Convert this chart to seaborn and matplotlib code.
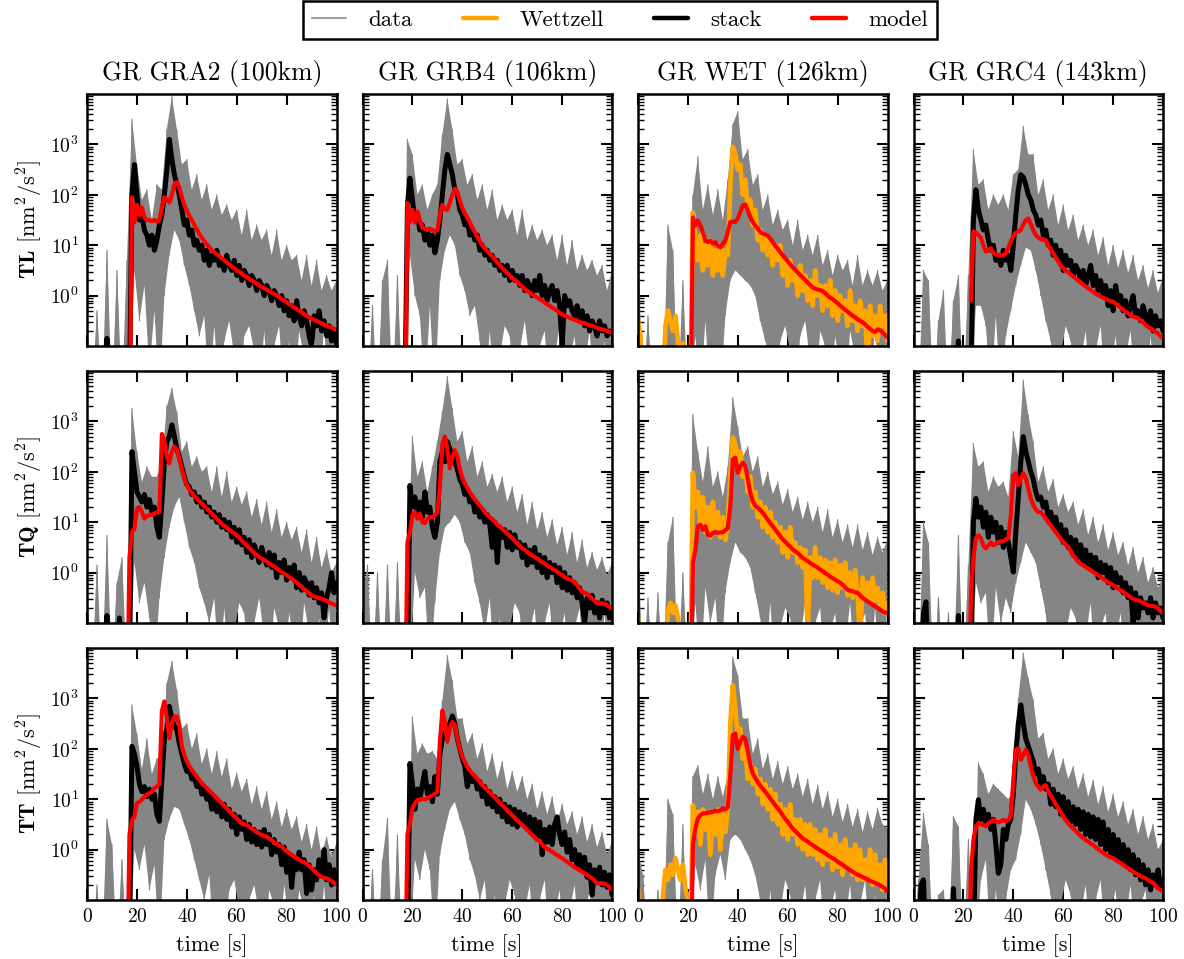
import numpy as np
import pandas as pd
import matplotlib
matplotlib.use("Agg")
import matplotlib.pyplot as plt
import seaborn as sns
from matplotlib.lines import Line2D
from matplotlib.ticker import NullLocator, LogLocator

# ---------------------------------------------------------------------------
# Values: log10 of power [nm^2/s^2].
# model / stack / Wettzell: one value per second, t = 0 ... 100 s.
# data: upper edge of the grey trace bundle at t = 0, 2, ..., 100 s (_hi) and
#       lower edge at t = 1, 3, ..., 99 s (_lo).
# -2 / -3 mean "below the plotted range"; None = not drawn.
# ---------------------------------------------------------------------------

# ---------------- TL row ----------------
tl_gra2_model = [
    -3, -3, -3, -3, -3, -3, -3, -3, -3, -3,
    -3, -3, -3, -3, -3, -3, -3, -3, 1.95, 1.45,
    1.8, 1.6, 1.75, 1.55, 1.5, 1.5, 1.48, 1.5, 1.47, 1.5,
    1.75, 1.95, 1.9, 1.85, 2.0, 2.2, 2.25, 2.15, 1.95, 1.8,
    1.68, 1.58, 1.5, 1.4, 1.32, 1.22, 1.15, 1.08, 1.02, 0.96,
    0.9, 0.86, 0.82, 0.78, 0.74, 0.7, 0.66, 0.62, 0.58, 0.54,
    0.5, 0.47, 0.44, 0.4, 0.37, 0.33, 0.3, 0.27, 0.24, 0.2,
    0.17, 0.15, 0.12, 0.09, 0.06, 0.03, 0.01, -0.03, -0.07, -0.1,
    -0.13, -0.17, -0.2, -0.23, -0.27, -0.3, -0.33, -0.37, -0.4, -0.43,
    -0.46, -0.48, -0.5, -0.53, -0.55, -0.58, -0.6, -0.62, -0.63, -0.66,
    -0.68]
tl_gra2_stack = [
    -2, -2, -2, -2, -2, -2, -2, -2, -0.85, -2,
    -2, -2, -2, -2, -2, -2, -2, -2, 2.0, 2.6,
    2.0, 1.5, 1.6, 1.3, 1.2, 1.0, 1.2, 0.9, 1.1, 1.4,
    1.6, 2.0, 2.5, 3.1, 2.7, 2.4, 2.2, 2.0, 1.7, 1.4,
    1.5, 1.2, 1.3, 1.0, 1.1, 0.9, 1.0, 0.7, 0.9, 0.6,
    0.8, 0.7, 0.9, 0.6, 0.7, 0.5, 0.8, 0.6, 0.5, 0.7,
    0.4, 0.6, 0.3, 0.5, 0.4, 0.2, 0.4, 0.3, 0.1, 0.3,
    0.2, 0.0, 0.2, 0.1, -0.1, 0.1, 0.0, -0.2, 0.0, -0.3,
    -0.1, -0.4, -0.2, -0.5, -0.1, -0.4, -0.6, -0.3, -0.5, -0.8,
    -1.0, -0.4, -0.6, -0.3, -0.7, -0.5, -0.8, -0.6, -0.9, -0.7,
    -0.95]
tl_gra2_data_hi = [
    -0.5, -2, -0.3, -2, 0.9, -2, 0.5, -2, 0.7, 3.5,
    2.6, 1.9, 2.1, 1.5, 2.2, 2.1, 3.3, 3.95, 3.3, 2.6,
    2.7, 2.1, 2.4, 1.9, 2.2, 1.7, 2.0, 1.6, 1.8, 1.5,
    1.7, 1.2, 1.7, 1.1, 1.4, 1.1, 1.3, 0.8, 1.3, 0.7,
    1.0, 0.7, 0.8, 0.3, 0.8, 0.2, 0.7, 0.1, 0.4, 0.1,
    0.3]
tl_gra2_data_lo = [
    -2, -2, -2, -2, -2, -2, -2, -2, -2, 0.5,
    -0.5, 0.2, -1.5, -0.3, -2, 0.0, 0.8, 1.3, 1.1, 0.6,
    0.2, -0.3, -0.8, -0.4, -2, -0.6, -2, -0.9, -0.5, -1.2,
    -2, -0.8, -0.6, -1.1, -2, -0.7, -2, -1.0, -0.6, -2,
    -0.9, -2, -0.7, -1.2, -2, -0.8, -2, -0.6, -2, -2]

tl_grb4_model = [
    -3, -3, -3, -3, -3, -3, -3, -3, -3, -3,
    -3, -3, -3, -3, -3, -3, -3, -3, 1.84, 1.45,
    1.7, 1.45, 1.67, 1.5, 1.35, 1.32, 1.3, 1.33, 1.3, 1.28,
    1.3, 1.6, 1.8, 1.72, 1.7, 1.85, 2.0, 2.12, 2.05, 1.88,
    1.74, 1.63, 1.55, 1.45, 1.35, 1.26, 1.17, 1.08, 1.0, 0.94,
    0.88, 0.83, 0.78, 0.72, 0.66, 0.6, 0.55, 0.5, 0.45, 0.4,
    0.35, 0.31, 0.27, 0.22, 0.18, 0.13, 0.09, 0.06, 0.02, -0.01,
    -0.04, -0.07, -0.1, -0.14, -0.17, -0.2, -0.24, -0.27, -0.3, -0.34,
    -0.37, -0.4, -0.42, -0.44, -0.46, -0.48, -0.5, -0.52, -0.54, -0.55,
    -0.57, -0.59, -0.6, -0.62, -0.64, -0.66, -0.67, -0.68, -0.7, -0.72,
    -0.74]
tl_grb4_stack = [
    -2, -2, -2, -2, -2, -2, -2, -2, -2, -2,
    -2, -2, -2, -2, -2, -2, -2, -2, 1.8, 2.33,
    1.9, 1.5, 1.6, 1.3, 1.4, 1.1, 1.3, 1.0, 1.2, 0.85,
    1.1, 1.5, 2.0, 2.5, 2.8, 2.6, 2.4, 2.1, 2.0, 1.7,
    1.6, 1.4, 1.5, 1.2, 1.3, 1.1, 1.2, 0.9, 1.0, 0.8,
    0.9, 0.7, 0.8, 0.6, 0.7, 0.5, 0.6, 0.4, 0.6, 0.3,
    0.5, 0.3, 0.4, 0.2, 0.4, 0.1, 0.3, 0.2, 0.0, 0.3,
    0.1, 0.4, 0.0, 0.2, -0.1, 0.1, 0.2, -0.1, 0.1, -0.2,
    -1.0, 0.0, -0.2, -0.1, -0.3, -0.4, -0.2, -0.5, -0.3, -0.6,
    -0.4, -0.7, -0.5, -0.6, -0.8, -0.5, -0.7, -0.6, -0.8, -0.7,
    -0.75]
tl_grb4_data_hi = [
    -0.6, -2, -0.2, -2, 0.3, 0.7, -2, 0.4, -2, 3.1,
    2.8, 2.0, 2.2, 1.7, 2.0, 2.2, 3.2, 3.9, 3.3, 2.6,
    2.7, 2.2, 2.4, 1.9, 2.2, 1.7, 2.1, 1.5, 1.8, 1.5,
    1.7, 1.2, 1.7, 1.1, 1.4, 1.1, 1.3, 1.0, 1.2, 0.7,
    1.2, 0.6, 1.1, 0.5, 0.8, 0.5, 0.7, 0.4, 0.6, 0.1,
    0.5]
tl_grb4_data_lo = [
    -2, -2, -2, -2, -2, -2, -2, -2, -2, 0.8,
    0.0, -0.4, -2, -0.2, -2, 0.3, 0.9, 1.2, 1.0, 0.4,
    0.1, -0.4, -0.2, -0.9, -2, -0.7, -2, -1.2, -0.6, -0.8,
    -2, -1.1, -0.5, -1.3, -2, -1.0, -0.7, -2, -1.2, -0.6,
    -2, -1.3, -0.8, -2, -1.4, -0.7, -2, -2, -0.9, -2]

tl_wet_model = [
    -3, -3, -3, -3, -3, -3, -3, -3, -3, -3,
    -3, -3, -3, -3, -3, -3, -3, -3, -3, -3,
    -3, -3, 1.55, 1.39, 1.49, 1.39, 1.26, 1.09, 1.06, 1.09,
    1.03, 1.06, 0.99, 0.96, 1.03, 1.09, 1.26, 1.46, 1.47, 1.46,
    1.53, 1.66, 1.79, 1.81, 1.69, 1.56, 1.46, 1.39, 1.33, 1.26,
    1.23, 1.21, 1.19, 1.13, 1.06, 0.99, 0.93, 0.86, 0.8, 0.74,
    0.68, 0.62, 0.56, 0.51, 0.46, 0.41, 0.36, 0.31, 0.26, 0.21,
    0.16, 0.14, 0.12, 0.11, 0.09, 0.05, 0.0, -0.04, -0.07, -0.11,
    -0.15, -0.2, -0.24, -0.28, -0.32, -0.36, -0.4, -0.43, -0.47, -0.5,
    -0.53, -0.57, -0.62, -0.66, -0.7, -0.72, -0.67, -0.69, -0.73, -0.78,
    -0.83]
tl_wet_wettzell = [
    -0.5, -0.8, -2, -2, -2, -2, -2, -2, -2, -2,
    -2, -0.6, -0.3, -0.5, -0.7, -0.4, -0.9, -2, -0.95, -2,
    -2, -2, 1.65, 1.1, 0.7, 1.2, 0.5, 1.0, 0.6, 1.1,
    0.4, 0.9, 0.5, 1.0, 0.4, 0.9, 0.8, 2.2, 2.95, 2.8,
    2.5, 2.6, 2.0, 2.3, 1.7, 1.9, 1.4, 1.7, 1.1, 1.3,
    0.9, 1.2, 0.8, 1.1, 0.6, 1.0, 0.7, 1.0, 0.4, 0.7,
    0.2, 0.7, 0.3, 0.5, 0.0, 0.6, 0.1, 0.4, -0.1, 0.3,
    -0.2, 0.5, 0.0, 0.2, -0.3, 0.2, -0.2, 0.3, -0.4, 0.1,
    -0.5, 0.0, -0.3, -0.1, -0.6, 0.1, -0.5, -0.2, -0.7, -0.1,
    -0.6, -0.3, -1.5, -0.2, -0.8, -0.4, -0.9, -0.2, -0.6, -0.4,
    -0.9]
tl_wet_data_hi = [
    1.2, -2, -0.4, -2, -2, -2, 1.4, 0.9, -2, 0.3,
    -2, 2.0, 2.76, 1.7, 2.2, 1.6, 2.1, 1.5, 2.3, 3.4,
    3.65, 2.7, 2.9, 2.2, 2.4, 1.7, 2.0, 1.4, 1.7, 1.3,
    1.5, 1.0, 1.5, 0.9, 1.2, 0.8, 1.2, 0.6, 0.9, 0.4,
    0.8, 0.5, 0.7, 0.2, 0.8, 0.2, 0.5, 0.2, 0.5, 0.1,
    0.3]
tl_wet_data_lo = [
    -2, -2, -2, -2, -2, -2, -2, -2, -2, -2,
    -2, -0.8, -2, -0.5, -2, -1.0, -2, -0.4, 0.3, 0.5,
    0.4, 0.3, 0.2, 0.0, -0.5, -0.9, -1.2, -2, -0.9, -0.6,
    -1.1, -2, -0.8, -0.5, -1.3, -2, -0.7, -1.0, -2, -0.8,
    -1.4, -2, -0.7, -1.2, -2, -0.9, -2, -0.6, -2, -2]

tl_grc4_model = [
    None, None, None, None, None, None, None, None, None, None,
    None, None, None, None, None, None, None, None, None, None,
    None, None, None, -0.1, 1.27, 1.25, 1.2, 1.15, 1.0, 0.87,
    0.9, 0.94, 0.85, 0.82, 0.8, 0.8, 0.8, 0.84, 0.95, 1.08,
    1.18, 1.25, 1.27, 1.3, 1.42, 1.5, 1.53, 1.42, 1.3, 1.2,
    1.15, 1.12, 1.1, 1.1, 1.0, 0.92, 0.84, 0.76, 0.68, 0.6,
    0.54, 0.5, 0.46, 0.42, 0.38, 0.34, 0.3, 0.26, 0.22, 0.18,
    0.15, 0.11, 0.08, 0.04, 0.01, -0.02, -0.04, -0.07, -0.09, -0.11,
    -0.12, -0.16, -0.2, -0.24, -0.28, -0.32, -0.35, -0.39, -0.42, -0.43,
    -0.45, -0.49, -0.53, -0.58, -0.62, -0.65, -0.68, -0.72, -0.75, -0.8,
    -0.85]
tl_grc4_stack = [
    -2, -2, -2, -2, -2, -2, -2, -2, -2, -2,
    -2, -2, -2, -2, -2, -2, -2, -2, -0.9, -2,
    -2, -2, -2, -2, 1.5, 2.1, 1.7, 1.5, 1.3, 1.4,
    1.1, 0.9, 1.0, 0.7, 0.8, 0.6, 0.9, 0.7, 0.8, 0.5,
    1.0, 1.6, 2.1, 2.4, 2.35, 2.2, 2.0, 1.9, 1.7, 1.6,
    1.4, 1.5, 1.2, 1.3, 1.0, 1.1, 0.8, 1.0, 0.7, 0.9,
    0.5, 0.8, 0.6, 0.7, 0.4, 0.6, 0.5, 0.3, 0.5, 0.2,
    0.4, 0.6, 0.2, 0.4, 0.1, 0.3, 0.0, 0.2, -0.2, 0.1,
    -0.3, 0.2, -0.1, 0.0, -0.3, -0.1, -0.4, -0.2, 0.0, -0.4,
    -0.3, -0.5, -0.2, -0.4, -0.6, -0.3, -0.7, -0.4, -0.6, -0.5,
    -0.7]
tl_grc4_data_hi = [
    -0.3, -2, 0.5, 0.3, -2, -0.5, 0.1, -2, -0.1, 0.4,
    -2, 0.4, 2.9, 2.2, 2.3, 1.7, 2.0, 1.8, 2.0, 1.7,
    2.4, 2.5, 3.36, 2.8, 2.8, 2.0, 2.3, 1.7, 2.0, 1.4,
    1.8, 1.3, 1.6, 1.1, 1.4, 1.0, 1.3, 0.8, 1.15, 0.6,
    1.0, 0.55, 0.9, 0.45, 0.8, 0.3, 0.6, 0.15, 0.5, 0.05,
    0.4]
tl_grc4_data_lo = [
    -2, -2, -2, -2, -2, -2, -2, -2, -2, -2,
    -2, -2, -0.2, -0.2, -0.6, -2, -0.4, -2, -0.8, -0.3,
    0.2, 0.6, 0.95, 0.9, 0.5, 0.0, -0.5, -0.9, -2, -1.2,
    -0.6, -0.9, -2, -1.3, -0.7, -2, -1.1, -0.6, -2, -1.5,
    -0.8, -2, -1.2, -0.7, -2, -1.0, -2, -0.8, -2, -2]

# ---------------- TQ row ----------------
tq_gra2_model = [
    -3, -3, -3, -3, -3, -3, -3, -3, -3, -3,
    -3, -3, -3, -3, -3, -3, -3, 0.3, 0.81, 0.87,
    1.27, 1.3, 1.2, 1.07, 1.12, 1.14, 1.15, 1.17, 1.2, 1.2,
    2.75, 2.6, 2.3, 2.17, 2.4, 2.5, 2.45, 2.25, 2.05, 1.88,
    1.73, 1.65, 1.58, 1.52, 1.47, 1.42, 1.37, 1.32, 1.27, 1.22,
    1.17, 1.12, 1.07, 1.02, 0.97, 0.93, 0.89, 0.85, 0.81, 0.78,
    0.74, 0.69, 0.64, 0.59, 0.54, 0.49, 0.44, 0.39, 0.34, 0.31,
    0.28, 0.25, 0.22, 0.18, 0.15, 0.12, 0.08, 0.05, 0.01, -0.02,
    -0.05, -0.09, -0.12, -0.16, -0.19, -0.24, -0.28, -0.33, -0.37, -0.41,
    -0.45, -0.47, -0.49, -0.5, -0.52, -0.54, -0.56, -0.59, -0.61, -0.63,
    -0.65]
tq_gra2_stack = [
    -2, -2, -2, -2, -2, -2, -2, -2, -0.85, -2,
    -2, -2, -2, -0.9, -2, -2, -2, -2, 2.4, 2.0,
    1.6, 1.5, 1.4, 1.55, 1.3, 1.45, 1.2, 1.3, 0.9, 0.7,
    1.4, 2.2, 2.6, 2.7, 2.93, 2.7, 2.45, 2.3, 2.1, 1.9,
    1.75, 1.7, 1.55, 1.6, 1.4, 1.5, 1.3, 1.4, 1.2, 1.3,
    1.1, 1.2, 1.0, 1.15, 0.9, 1.05, 0.85, 1.0, 0.7, 0.9,
    0.6, 0.85, 0.55, 0.7, 0.4, 0.65, 0.3, 0.55, 0.4, 0.2,
    0.5, 0.3, 0.15, 0.4, 0.1, 0.35, -0.1, 0.2, 0.0, 0.25,
    -0.15, 0.1, -0.1, 0.15, -0.3, 0.0, -0.35, -0.1, -0.2, -0.45,
    -0.2, -0.5, -0.3, -0.6, -0.4, -0.9, -0.5, -0.3, 0.0, -0.4,
    -0.2]
tq_gra2_data_hi = [
    -0.4, -2, 0.15, -2, 0.74, -2, -0.2, 0.3, -2, 3.26,
    2.4, 1.8, 2.1, 1.9, 1.9, 2.2, 3.3, 3.66, 3.19, 2.4,
    2.6, 2.1, 2.3, 2.0, 2.1, 1.6, 2.1, 1.5, 2.0, 1.4,
    1.7, 1.35, 1.6, 1.1, 1.45, 0.95, 1.4, 0.8, 1.25, 0.7,
    1.0, 0.65, 0.9, 0.4, 0.85, 0.2, 0.7, 0.1, 0.45, 0.0,
    0.2]
tq_gra2_data_lo = [
    -2, -2, -2, -2, -2, -2, -2, -2, -2, 0.2,
    -0.6, -0.2, -0.9, -2, -0.5, 0.3, 0.9, 1.3, 1.5, 1.0,
    0.5, 0.2, -0.3, -0.6, -1.0, -0.5, -2, -0.7, -2, -1.2,
    -0.6, -0.8, -2, -1.0, -0.5, -1.3, -2, -0.7, -1.1, -2,
    -0.8, -1.4, -2, -0.6, -1.2, -2, -0.9, -2, -0.7, -2]

tq_grb4_model = [
    -3, -3, -3, -3, -3, -3, -3, -3, -3, -3,
    -3, -3, -3, -3, -3, -3, -3, -3, 0.6, 0.8,
    1.14, 1.2, 1.07, 1.17, 1.0, 0.98, 1.07, 1.1, 1.1, 1.13,
    1.2, 1.7, 2.55, 2.7, 2.45, 2.07, 2.3, 2.43, 2.3, 2.05,
    1.88, 1.77, 1.68, 1.6, 1.52, 1.45, 1.39, 1.33, 1.27, 1.2,
    1.14, 1.1, 1.06, 1.01, 0.95, 0.91, 0.87, 0.82, 0.77, 0.73,
    0.68, 0.63, 0.58, 0.53, 0.48, 0.45, 0.41, 0.37, 0.34, 0.31,
    0.28, 0.24, 0.21, 0.18, 0.14, 0.11, 0.08, 0.05, 0.02, -0.02,
    -0.05, -0.09, -0.12, -0.14, -0.15, -0.2, -0.25, -0.32, -0.38, -0.4,
    -0.42, -0.47, -0.52, -0.56, -0.61, -0.61, -0.61, -0.62, -0.65, -0.68,
    -0.72]
tq_grb4_stack = [
    -2, -2, -2, -2, -2, -2, -2, -2, -2, -2,
    -2, -2, -2, -2, -2, -2, -2, -2, -2, 1.73,
    1.3, 1.5, 1.2, 1.4, 1.1, 1.6, 1.2, 1.3, 0.9, 0.7,
    1.0, 2.2, 2.4, 2.2, 2.6, 2.45, 2.35, 2.2, 2.05, 1.85,
    1.75, 1.55, 1.65, 1.4, 1.5, 1.2, 1.35, 1.1, 1.25, 1.0,
    1.15, 0.95, 0.5, 1.0, 0.2, 0.9, 0.7, 0.85, 0.5, 0.8,
    0.45, 0.75, 0.5, 0.6, 0.3, 0.55, 0.15, 0.45, 0.2, 0.5,
    0.1, 0.35, 0.0, 0.3, -0.1, 0.2, 0.0, 0.15, -0.2, 0.1,
    -0.3, 0.0, -0.35, -0.1, -0.4, -0.2, -0.5, -0.3, -0.6, -1.0,
    -0.5, -0.7, -0.45, -0.8, -0.6, -0.9, -0.55, -0.8, -0.6, -0.9,
    -0.7]
tq_grb4_data_hi = [
    -0.5, 0.15, -2, 0.0, -2, 0.15, -2, 0.2, -2, 0.1,
    2.7, 1.9, 2.2, 1.6, 2.1, 2.6, 3.2, 3.89, 3.26, 2.6,
    2.8, 2.2, 2.5, 1.9, 2.2, 1.7, 1.95, 1.6, 1.9, 1.4,
    1.7, 1.2, 1.55, 0.95, 1.4, 0.85, 1.2, 0.7, 1.05, 0.55,
    0.9, 0.35, 0.8, 0.2, 0.65, 0.1, 0.4, 0.05, 0.3, -0.05,
    0.2]
tq_grb4_data_lo = [
    -2, -2, -2, -2, -2, -2, -2, -2, -2, -2,
    0.0, -0.5, -0.3, -2, -0.6, 0.4, 0.9, 1.0, 1.15, 1.0,
    0.6, 0.4, -0.2, -0.6, -1.2, -0.5, -2, -0.9, -2, -1.1,
    -0.6, -0.8, -2, -1.2, -0.7, -2, -1.0, -0.6, -2, -1.3,
    -0.8, -2, -1.1, -0.7, -2, -1.0, -1.3, -2, -0.8, -2]

tq_wet_model = [
    -3, -3, -3, -3, -3, -3, -3, -3, -3, -3,
    -3, -3, -3, -3, -3, -3, -3, -3, -3, -3,
    -3, -3, 0.2, 0.45, 0.92, 0.95, 0.85, 0.92, 0.75, 0.73,
    0.79, 0.8, 0.79, 0.8, 0.8, 0.84, 0.89, 1.32, 2.25, 2.28,
    1.98, 2.11, 2.18, 2.11, 1.85, 1.58, 1.42, 1.32, 1.29, 1.24,
    1.19, 1.12, 1.05, 0.98, 0.92, 0.85, 0.79, 0.72, 0.66, 0.61,
    0.56, 0.51, 0.46, 0.42, 0.39, 0.34, 0.29, 0.26, 0.23, 0.19,
    0.16, 0.13, 0.1, 0.06, 0.03, -0.01, -0.04, -0.08, -0.11, -0.14,
    -0.17, -0.2, -0.24, -0.29, -0.34, -0.36, -0.37, -0.39, -0.4, -0.45,
    -0.5, -0.54, -0.57, -0.6, -0.64, -0.67, -0.7, -0.73, -0.77, -0.79,
    -0.8]
tq_wet_wettzell = [
    -0.9, -2, -2, -2, -2, -2, -2, -2, -2, -2,
    -2, -2, -0.75, -0.6, -0.8, -0.65, -0.9, -2, -2, -2,
    -2, -2, 1.98, 1.3, 1.6, 0.9, 1.5, 0.8, 1.3, 0.7,
    1.4, 0.9, 1.2, 0.7, 1.1, 0.65, 1.0, 1.9, 2.68, 2.55,
    2.2, 2.4, 1.9, 2.1, 1.6, 1.9, 1.3, 1.6, 1.1, 1.4,
    0.9, 1.3, 0.8, 1.2, 0.7, 1.0, 0.6, 0.9, 0.4, 0.8,
    0.3, 0.9, 0.4, 0.6, 0.2, 0.5, 0.1, 0.45, -1.2, 0.3,
    -0.1, 0.5, -0.1, 0.3, -0.2, 0.25, -0.3, 0.2, -0.35, 0.25,
    -0.4, 0.15, -0.3, 0.2, -0.45, 0.0, -0.5, 0.05, -0.4, -1.5,
    -0.1, -0.5, -0.2, -0.6, -0.1, -0.55, -0.3, -0.7, -0.4, -0.8,
    -0.6]
tq_wet_data_hi = [
    0.66, -2, -0.5, -2, -0.4, -2, 0.6, 1.1, -2, 0.0,
    -2, 3.14, 2.4, 1.8, 2.5, 1.7, 2.0, 1.5, 2.1, 3.47,
    2.9, 2.3, 2.5, 2.0, 2.3, 1.7, 2.0, 1.55, 1.8, 1.35,
    1.65, 1.2, 1.5, 1.05, 1.4, 1.0, 1.3, 0.8, 1.25, 0.7,
    1.05, 0.6, 0.95, 0.5, 0.95, 0.45, 0.8, 0.35, 0.7, 0.4,
    0.66]
tq_wet_data_lo = [
    -2, -2, -2, -2, -2, -2, -2, -2, -2, -2,
    -2, -0.6, -2, -0.3, -1.0, -0.5, -2, -0.4, 0.2, 0.6,
    0.4, 0.3, 0.1, -0.4, -0.9, -2, -0.6, -2, -1.1, -0.7,
    -0.9, -2, -1.3, -0.6, -2, -1.0, -0.7, -2, -1.2, -0.8,
    -2, -1.5, -0.6, -2, -1.1, -0.8, -2, -0.7, -2, -2]

tq_grc4_model = [
    -3, -3, -3, -3, -3, -3, -3, -3, -3, -3,
    -3, -3, -3, -3, -3, -3, -3, -3, -3, -3,
    -3, -3, -3, -0.5, 0.3, 0.68, 0.74, 0.68, 0.54, 0.48,
    0.54, 0.6, 0.54, 0.57, 0.61, 0.62, 0.62, 0.66, 0.68, 1.14,
    1.93, 1.97, 1.74, 1.87, 1.97, 1.87, 1.67, 1.47, 1.34, 1.25,
    1.2, 1.2, 1.14, 1.07, 1.0, 0.94, 0.87, 0.8, 0.74, 0.67,
    0.61, 0.56, 0.51, 0.43, 0.34, 0.28, 0.21, 0.17, 0.15, 0.11,
    0.08, 0.05, 0.01, -0.02, -0.05, -0.09, -0.12, -0.16, -0.19, -0.22,
    -0.25, -0.28, -0.32, -0.35, -0.38, -0.42, -0.45, -0.49, -0.52, -0.54,
    -0.55, -0.57, -0.6, -0.62, -0.65, -0.66, -0.66, -0.68, -0.71, -0.76,
    -0.81]
tq_grc4_stack = [
    -2, -2, -2, -2, -0.8, -0.58, -2, -2, -2, -2,
    -2, -2, -2, -2, -2, -2, -2, -2, -0.85, -2,
    -2, -2, -2, -2, 1.0, 1.47, 1.1, 1.3, 0.9, 1.2,
    0.7, 1.1, 0.8, 1.0, 0.6, 0.9, 0.5, 0.8, 0.6, 0.3,
    0.01, 0.8, 1.5, 2.2, 2.7, 2.4, 2.2, 2.0, 1.85, 1.6,
    1.45, 1.5, 1.3, 1.4, 1.1, 1.2, 0.9, 1.1, 0.8, 0.95,
    0.6, 0.85, 0.5, 0.7, 0.35, 0.65, 0.3, 0.55, 0.2, 0.45,
    0.1, 0.35, 0.05, 0.3, -0.1, 0.2, 0.0, 0.15, -0.2, 0.1,
    -0.3, 0.0, -0.2, -0.1, -0.4, -0.2, -0.5, -0.3, -1.0, -0.4,
    -0.9, -0.5, -0.7, -0.6, -0.8, -0.5, -0.9, -0.6, -0.8, -0.7,
    -0.9]
tq_grc4_data_hi = [
    -0.52, -2, 1.0, 0.6, -2, -0.5, -2, -0.8, -2, 0.74,
    -2, 0.15, 2.56, 2.1, 2.2, 1.6, 1.9, 1.7, 1.8, 1.5,
    2.8, 2.3, 3.82, 3.13, 2.6, 1.8, 2.1, 1.6, 1.85, 1.3,
    1.55, 1.2, 1.4, 0.95, 1.25, 0.75, 1.1, 0.6, 0.95, 0.45,
    0.8, 0.35, 0.6, 0.15, 0.5, 0.0, 0.3, -0.2, 0.1, -0.3,
    -0.1]
tq_grc4_data_lo = [
    -2, -2, -2, -2, -2, -2, -2, -2, -2, -2,
    -2, -2, -0.2, -0.6, -0.4, -2, -0.3, -1.0, -0.5, -0.8,
    -0.2, 0.2, 0.6, 0.4, 0.2, -0.3, -0.8, -2, -1.0, -2,
    -1.2, -0.7, -0.9, -2, -1.3, -0.6, -2, -1.1, -0.8, -2,
    -1.4, -0.8, -2, -1.2, -0.9, -2, -2, -1.0, -2, -2]

# ---------------- TT row ----------------
tt_gra2_model = [
    -3, -3, -3, -3, -3, -3, -3, -3, -3, -3,
    -3, -3, -3, -3, -3, -3, -3, 0.3, 0.59, 0.65,
    0.92, 0.95, 0.99, 1.05, 1.09, 1.12, 1.15, 1.22, 1.25, 1.3,
    2.75, 2.94, 2.6, 2.21, 2.5, 2.64, 2.64, 2.45, 2.05, 1.88,
    1.75, 1.66, 1.58, 1.51, 1.45, 1.38, 1.32, 1.27, 1.22, 1.17,
    1.12, 1.07, 1.02, 0.97, 0.92, 0.87, 0.82, 0.77, 0.72, 0.67,
    0.62, 0.57, 0.52, 0.5, 0.49, 0.45, 0.42, 0.38, 0.35, 0.32,
    0.29, 0.27, 0.26, 0.22, 0.19, 0.13, 0.11, 0.08, 0.06, 0.01,
    -0.04, -0.07, -0.1, -0.14, -0.17, -0.2, -0.23, -0.25, -0.28, -0.32,
    -0.37, -0.42, -0.47, -0.51, -0.54, -0.56, -0.57, -0.59, -0.62, -0.66,
    -0.7]
tt_gra2_stack = [
    -2, -2, -2, -2, -2, -2, -2, -2, -2, -2,
    -2, -2, -2, -2, -2, -2, -2, -2, 2.05, 1.9,
    1.65, 1.3, 1.15, 1.25, 1.05, 1.2, 1.0, 1.1, 0.7, 0.56,
    1.4, 2.2, 2.4, 2.84, 2.6, 2.45, 2.38, 2.1, 1.9, 1.7,
    1.55, 1.6, 1.4, 1.45, 1.25, 1.35, 1.1, 1.25, 1.0, 1.1,
    0.8, 1.05, 0.75, 0.95, 0.65, 0.9, 0.6, 0.8, 0.45, 0.7,
    0.3, 0.65, 0.4, 0.55, 0.2, 0.5, 0.15, 0.4, 0.1, 0.35,
    0.05, 0.4, 0.1, 0.3, -0.1, 0.2, -0.05, 0.1, -0.3, 0.05,
    -0.45, -0.1, -0.75, -0.2, -0.4, -0.05, -0.4, -0.2, -0.87, -0.3,
    -0.8, -0.4, -0.6, -0.2, -0.5, 0.0, -0.6, -0.3, -0.7, -0.4,
    -0.6]
tt_gra2_data_hi = [
    -0.6, -2, -0.7, -2, 0.6, 0.1, -2, -0.2, -2, 2.87,
    2.3, 1.6, 2.2, 1.5, 1.8, 1.9, 3.3, 3.74, 3.17, 2.4,
    2.5, 2.0, 2.3, 1.7, 2.0, 1.5, 1.95, 1.45, 1.8, 1.2,
    1.52, 1.15, 1.4, 0.9, 1.25, 0.8, 1.15, 0.6, 0.95, 0.45,
    0.8, 0.4, 0.65, 0.15, 0.5, 0.0, 0.45, -0.1, 0.25, -0.15,
    0.13]
tt_gra2_data_lo = [
    -2, -2, -2, -2, -2, -2, -2, -2, -2, 0.0,
    -0.4, 0.1, -0.8, -0.3, -2, 0.2, 0.6, 0.85, 0.8, 0.5,
    0.2, -0.2, -0.6, -1.0, -0.5, -2, -1.1, -2, -0.8, -0.6,
    -1.2, -2, -1.0, -0.7, -1.3, -2, -0.8, -1.1, -2, -0.7,
    -1.4, -2, -0.8, -1.2, -2, -0.9, -2, -0.7, -2, -2]

tt_grb4_model = [
    -3, -3, -3, -3, -3, -3, -3, -3, -3, -3,
    -3, -3, -3, -3, -3, -3, -3, -3, 0.3, 0.52,
    0.82, 0.92, 0.98, 0.99, 1.01, 0.99, 1.02, 1.05, 1.08, 1.11,
    1.14, 2.14, 2.76, 2.53, 2.14, 2.4, 2.53, 2.47, 2.2, 2.0,
    1.84, 1.74, 1.64, 1.57, 1.51, 1.46, 1.41, 1.34, 1.28, 1.23,
    1.18, 1.13, 1.08, 1.03, 0.98, 0.93, 0.88, 0.83, 0.78, 0.73,
    0.68, 0.63, 0.58, 0.53, 0.49, 0.44, 0.39, 0.34, 0.29, 0.24,
    0.19, 0.18, 0.09, 0.05, 0.02, -0.01, -0.04, -0.08, -0.11, -0.14,
    -0.17, -0.21, -0.24, -0.28, -0.31, -0.35, -0.38, -0.41, -0.44, -0.47,
    -0.5, -0.54, -0.57, -0.62, -0.67, -0.67, -0.67, -0.68, -0.7, -0.75,
    -0.8]
tt_grb4_stack = [
    -2, -2, -2, -2, -2, -2, -2, -2, -2, -2,
    -2, -2, -2, -2, -2, -2, -2, -2, -2, 1.71,
    1.3, 0.8, 1.2, 1.0, 1.3, 1.55, 1.1, 1.25, 0.95, 1.45,
    1.1, 1.9, 2.2, 2.3, 2.4, 2.5, 2.65, 2.5, 2.2, 2.0,
    1.8, 1.65, 1.25, 1.55, 1.35, 1.45, 1.2, 1.35, 1.05, 1.25,
    0.9, 1.15, 0.85, 1.05, 0.75, 1.0, 0.65, 0.9, 0.55, 0.85,
    0.5, 0.8, 0.45, 0.75, 0.5, 0.7, 0.4, 0.65, 0.35, 0.6,
    0.2, 0.55, -0.1, 0.4, 0.15, 0.45, 0.1, 0.5, 0.65, 0.3,
    0.1, 0.35, -0.05, 0.2, -0.2, 0.0, -0.35, -0.1, -0.4, -0.15,
    -0.55, -0.3, -0.9, -0.4, -0.6, -0.35, -0.7, -0.45, -0.75, -0.5,
    -0.9]
tt_grb4_data_hi = [
    0.0, -2, -0.4, -2, -0.2, 0.62, -2, 0.29, -2, -2,
    2.63, 1.9, 2.1, 1.9, 1.95, 1.8, 2.96, 3.85, 3.36, 2.6,
    2.6, 2.1, 2.3, 1.8, 2.1, 1.55, 1.9, 1.4, 1.75, 1.2,
    1.55, 1.15, 1.45, 1.0, 1.3, 0.8, 1.15, 0.7, 1.05, 0.55,
    0.9, 0.5, 0.75, 0.3, 0.65, 0.15, 0.5, 0.05, 0.35, -0.1,
    0.16]
tt_grb4_data_lo = [
    -2, -2, -2, -2, -2, -2, -2, -2, -2, -2,
    -0.2, -0.6, 0.0, -0.4, -2, -0.1, 0.4, 0.8, 0.95, 0.6,
    0.3, -0.2, -0.5, -1.0, -0.6, -2, -0.9, -2, -1.1, -0.6,
    -0.9, -2, -1.2, -0.7, -2, -1.0, -0.6, -2, -1.3, -0.8,
    -2, -1.2, -0.7, -2, -1.4, -0.8, -2, -1.0, -2, -2]

tt_wet_model = [
    -3, -3, -3, -3, -3, -3, -3, -3, -3, -3,
    -3, -3, -3, -3, -3, -3, -3, -3, -3, -3,
    -3, -3, 0.1, 0.42, 0.62, 0.68, 0.72, 0.72, 0.73, 0.74,
    0.75, 0.77, 0.76, 0.78, 0.82, 0.8, 0.84, 1.48, 2.27, 2.3,
    2.0, 2.14, 2.24, 2.2, 1.94, 1.68, 1.51, 1.42, 1.34, 1.27,
    1.21, 1.15, 1.08, 1.01, 0.95, 0.88, 0.82, 0.75, 0.68, 0.61,
    0.55, 0.48, 0.42, 0.37, 0.32, 0.27, 0.22, 0.19, 0.16, 0.12,
    0.09, 0.05, 0.02, -0.01, -0.04, -0.07, -0.11, -0.14, -0.17, -0.2,
    -0.24, -0.27, -0.3, -0.34, -0.37, -0.41, -0.44, -0.47, -0.5, -0.52,
    -0.54, -0.57, -0.59, -0.62, -0.64, -0.66, -0.68, -0.71, -0.74, -0.78,
    -0.83]
tt_wet_wettzell = [
    -0.77, -2, -2, -2, -2, -2, -2, -2, -2, -2,
    -0.9, -0.4, -0.6, -0.3, -0.5, -0.17, -0.4, -0.6, -0.3, -0.8,
    -0.95, -2, 0.88, 0.3, 0.75, 0.1, 0.8, 0.4, 0.7, -0.1,
    0.75, 0.3, 0.8, 0.0, 0.7, 0.35, 0.8, 2.5, 3.26, 2.8,
    2.2, 2.4, 1.8, 2.0, 1.4, 1.7, 1.3, 1.6, 1.1, 1.4,
    0.9, 1.3, 0.8, 1.2, 0.6, 1.1, 0.5, 0.9, 0.3, 0.8,
    0.2, 0.9, 0.3, 0.6, 0.1, 0.6, 0.0, 0.5, -0.1, 0.5,
    -0.1, 0.4, -0.2, 0.3, -0.3, 0.4, -0.2, 0.2, -0.4, 0.3,
    -0.35, 0.1, -0.5, 0.2, -0.3, 0.0, -0.5, 0.1, -0.6, 0.0,
    -0.6, -0.2, -0.5, 0.0, -0.7, -0.1, -0.6, -0.3, -0.8, -0.2,
    -0.7]
tt_wet_data_hi = [
    0.0, -0.5, -2, -2, -0.8, -2, 1.0, 0.7, -2, 0.5,
    -2, 1.45, 1.67, 1.1, 1.5, 1.0, 1.45, 1.05, 1.5, 3.82,
    3.46, 2.6, 2.6, 1.9, 2.2, 1.6, 1.9, 1.4, 1.75, 1.3,
    1.65, 1.2, 1.5, 1.05, 1.4, 0.9, 1.28, 0.8, 1.15, 0.65,
    1.0, 0.55, 0.9, 0.45, 0.8, 0.35, 0.75, 0.4, 0.82, 0.5,
    0.42]
tt_wet_data_lo = [
    -2, -2, -2, -2, -2, -2, -2, -2, -2, -2,
    -2, -0.3, -0.8, -0.2, -2, -0.5, -0.1, -0.6, 0.2, 0.3,
    0.2, 0.0, -0.2, -0.5, -1.0, -2, -0.8, -2, -1.2, -0.6,
    -0.9, -2, -1.3, -0.7, -2, -1.0, -0.6, -2, -1.2, -0.8,
    -2, -1.4, -0.7, -2, -1.1, -0.6, -2, -0.9, -2, -2]

tt_grc4_model = [
    -3, -3, -3, -3, -3, -3, -3, -3, -3, -3,
    -3, -3, -3, -3, -3, -3, -3, -3, -3, -3,
    -3, -3, -3, -0.47, 0.19, 0.46, 0.52, 0.5, 0.49, 0.46,
    0.52, 0.56, 0.59, 0.56, 0.54, 0.56, 0.59, 0.56, 0.59, 0.66,
    1.38, 1.98, 2.01, 1.78, 1.88, 1.98, 1.88, 1.65, 1.45, 1.32,
    1.25, 1.19, 1.25, 1.28, 1.15, 1.07, 0.99, 0.9, 0.82, 0.74,
    0.66, 0.59, 0.52, 0.47, 0.42, 0.37, 0.32, 0.27, 0.23, 0.19,
    0.16, 0.12, 0.09, 0.05, 0.01, -0.03, -0.06, -0.1, -0.13, -0.15,
    -0.17, -0.2, -0.24, -0.27, -0.3, -0.34, -0.37, -0.4, -0.44, -0.47,
    -0.5, -0.52, -0.55, -0.57, -0.6, -0.63, -0.66, -0.71, -0.77, -0.8,
    -0.83]
tt_grc4_stack = [
    -2, -2, -2, -0.7, -0.6, -2, -2, -2, -2, -2,
    -2, -2, -2, -2, -2, -2, -0.77, -2, -2, -2,
    -2, -2, -2, -2, -2, 0.6, 0.99, 0.6, 0.8, 0.5,
    0.7, 0.4, 0.6, 0.1, -0.47, -0.3, 0.4, 0.2, 0.5, 0.6,
    1.1, 1.9, 2.5, 2.87, 2.5, 2.2, 2.05, 1.9, 1.75, 1.5,
    1.6, 1.3, 1.45, 1.2, 1.3, 0.9, 1.2, 0.85, 1.1, 0.7,
    1.05, 0.6, 0.95, 0.55, 0.85, 0.5, 0.8, 0.4, 0.75, 0.3,
    0.7, 0.25, 0.65, 0.2, 0.6, 0.1, 0.55, 0.0, 0.4, -0.1,
    0.3, -0.15, 0.2, -0.25, 0.1, -0.3, 0.0, -0.4, -0.1, -0.5,
    -0.2, -0.6, -0.3, -0.7, -0.4, -0.8, -0.5, -0.7, -0.4, -0.75,
    -0.6]
tt_grc4_data_hi = [
    -2, -0.6, 0.72, 0.1, -2, -0.9, -0.8, -2, 0.66, 0.46,
    -2, 0.2, -2, 1.72, 1.5, 1.1, 1.3, 1.2, 1.1, 1.0,
    1.2, 3.0, 3.9, 3.4, 2.97, 2.2, 2.31, 1.8, 2.0, 1.5,
    1.8, 1.4, 1.65, 1.2, 1.5, 1.05, 1.38, 0.9, 1.25, 0.75,
    1.1, 0.65, 0.95, 0.5, 0.8, 0.3, 0.66, 0.2, 0.5, 0.0,
    0.19]
tt_grc4_data_lo = [
    -2, -2, -2, -2, -2, -2, -2, -2, -2, -2,
    -2, -2, -2, -0.6, -0.2, -2, -0.8, -2, -1.0, -0.4,
    -0.2, 0.3, 0.99, 0.8, 0.5, 0.1, -0.4, -0.9, -2, -1.1,
    -0.6, -0.9, -2, -1.3, -0.7, -2, -1.0, -0.6, -2, -1.2,
    -0.8, -2, -1.4, -0.7, -2, -1.1, -0.8, -2, -2, -2]

stations = ["GR GRA2 (100km)", "GR GRB4 (106km)", "GR WET (126km)", "GR GRC4 (143km)"]
components = ["TL", "TQ", "TT"]
x_ticks = [0, 20, 40, 60, 80, 100]
y_ticks = [1, 10, 100, 1000]

data_hi_grid = [[tl_gra2_data_hi, tl_grb4_data_hi, tl_wet_data_hi, tl_grc4_data_hi],
                [tq_gra2_data_hi, tq_grb4_data_hi, tq_wet_data_hi, tq_grc4_data_hi],
                [tt_gra2_data_hi, tt_grb4_data_hi, tt_wet_data_hi, tt_grc4_data_hi]]
data_lo_grid = [[tl_gra2_data_lo, tl_grb4_data_lo, tl_wet_data_lo, tl_grc4_data_lo],
                [tq_gra2_data_lo, tq_grb4_data_lo, tq_wet_data_lo, tq_grc4_data_lo],
                [tt_gra2_data_lo, tt_grb4_data_lo, tt_wet_data_lo, tt_grc4_data_lo]]
stack_grid = [[tl_gra2_stack, tl_grb4_stack, None, tl_grc4_stack],
              [tq_gra2_stack, tq_grb4_stack, None, tq_grc4_stack],
              [tt_gra2_stack, tt_grb4_stack, None, tt_grc4_stack]]
wettzell_grid = [[None, None, tl_wet_wettzell, None],
                 [None, None, tq_wet_wettzell, None],
                 [None, None, tt_wet_wettzell, None]]
model_grid = [[tl_gra2_model, tl_grb4_model, tl_wet_model, tl_grc4_model],
              [tq_gra2_model, tq_grb4_model, tq_wet_model, tq_grc4_model],
              [tt_gra2_model, tt_grb4_model, tt_wet_model, tt_grc4_model]]

C_DATA, C_WET, C_STACK, C_MODEL = "#858585", "#FFA500", "#000000", "#FF0000"

sns.set_style("ticks")
plt.rcParams.update({
    "font.family": "cmr10",
    "mathtext.fontset": "cm",
    "axes.formatter.use_mathtext": True,
    "axes.linewidth": 1.8,
    "axes.edgecolor": "black",
    "xtick.color": "black",
    "ytick.color": "black",
    "text.color": "black",
    "axes.labelcolor": "black",
})


def draw_line(ax, values, color, lw, z):
    v = np.array(values, dtype=float)
    frame = pd.DataFrame({"time": np.arange(v.size), "power": np.power(10.0, v)}).dropna()
    sns.lineplot(data=frame, x="time", y="power", ax=ax, color=color, linewidth=lw,
                 estimator=None, sort=False, legend=False, zorder=z)


def draw_data(ax, hi, lo, color):
    hi = np.array(hi, dtype=float)
    lo = np.array(lo, dtype=float)
    t_hi = 2 * np.arange(hi.size)
    t_lo = 2 * np.arange(lo.size) + 1
    # grey band of the individual traces: upper edge forward, lower edge back
    ax.fill(np.concatenate([t_hi, t_lo[::-1]]),
            np.power(10.0, np.concatenate([hi, lo[::-1]])),
            color=color, lw=0, zorder=1)
    # the traces themselves, zig-zagging between the two edges
    order = np.argsort(np.concatenate([t_hi, t_lo]), kind="stable")
    frame = pd.DataFrame({"time": np.concatenate([t_hi, t_lo])[order],
                          "power": np.power(10.0, np.concatenate([hi, lo]))[order]})
    sns.lineplot(data=frame, x="time", y="power", ax=ax, color=color, linewidth=0.8,
                 estimator=None, sort=False, legend=False, zorder=1)


fig, axes = plt.subplots(3, 4, figsize=(11.84, 9.59), dpi=100, sharex=True, sharey=True)
fig.subplots_adjust(left=0.0735, right=0.9823, top=0.902, bottom=0.0615,
                    wspace=0.104, hspace=0.099)

for r in range(3):
    for c in range(4):
        ax = axes[r, c]
        draw_data(ax, data_hi_grid[r][c], data_lo_grid[r][c], C_DATA)
        if wettzell_grid[r][c] is not None:
            draw_line(ax, wettzell_grid[r][c], C_WET, 3.4, 2)
        if stack_grid[r][c] is not None:
            draw_line(ax, stack_grid[r][c], C_STACK, 3.6, 3)
        draw_line(ax, model_grid[r][c], C_MODEL, 3.0, 4)
        ax.set_yscale("log")
        ax.set_xlim(0, 100)
        ax.set_ylim(0.1, 1e4)
        ax.set_xticks(x_ticks)
        ax.set_yticks(y_ticks)
        ax.yaxis.set_minor_locator(LogLocator(base=10, subs=np.arange(2, 10), numticks=20))
        ax.xaxis.set_minor_locator(NullLocator())
        ax.tick_params(which="both", direction="in", top=True, right=True,
                       labelsize=14)
        ax.tick_params(which="major", length=8, width=1.5, pad=6)
        ax.tick_params(which="minor", length=4, width=1.0)
        ax.set_xlabel("")
        ax.set_ylabel("")
        for s in ax.spines.values():
            s.set_linewidth(1.8)
            s.set_color("black")
            s.set_zorder(10)
        if r == 0:
            ax.set_title(stations[c], fontsize=18.5, pad=10)
        if r == 2:
            ax.set_xlabel("time [s]", fontsize=16, labelpad=6)
        if c == 0:
            ax.set_ylabel(r"$\mathbf{%s}$ [nm$^2$/s$^2$]" % components[r], fontsize=16)

handles = [Line2D([], [], color="#a0a0a0", lw=1.5),
           Line2D([], [], color=C_WET, lw=3.2),
           Line2D([], [], color=C_STACK, lw=3.2),
           Line2D([], [], color=C_MODEL, lw=3.2)]
leg = fig.legend(handles, ["data", "Wettzell", "stack", "model"], loc="center",
                 bbox_to_anchor=(0.524, 0.979), ncol=4, fontsize=16.5, frameon=True,
                 fancybox=False, edgecolor="black", framealpha=1.0,
                 handlelength=1.45, handletextpad=1.0, columnspacing=2.2,
                 borderpad=0.4)
leg.get_frame().set_linewidth(1.8)

fig.savefig("out.png", dpi=100)
